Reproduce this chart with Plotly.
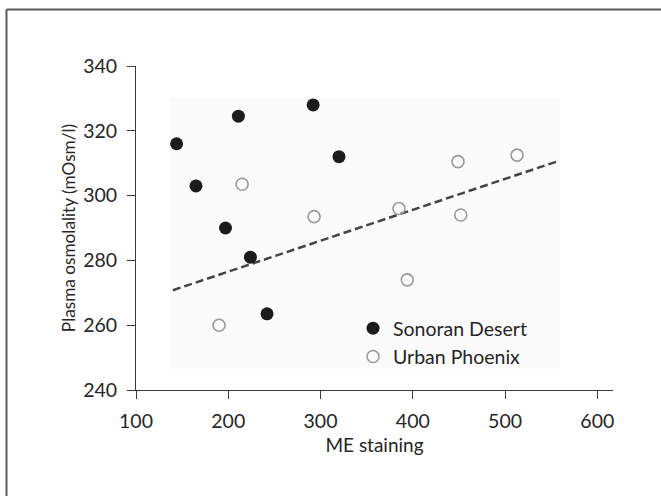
import plotly.graph_objects as go

# Data
sonoran_x = [144, 165, 211, 197, 224, 242, 292, 320]
sonoran_y = [316, 303, 324.5, 290, 281, 263.5, 328, 312]
urban_x = [190, 215, 293, 385, 394, 449, 452, 513]
urban_y = [260, 303.5, 293.5, 296, 274, 310.5, 294, 312.5]
trend_x = [140, 557]
trend_y = [270.8, 310.6]
x_ticks = [100, 200, 300, 400, 500, 600]
y_ticks = [240, 260, 280, 300, 320, 340]

FONT = "Lato"
TXT = "#262626"

fig = go.Figure()
fig.add_trace(go.Scatter(
    x=trend_x, y=trend_y, mode="lines", showlegend=False,
    line=dict(color="#444444", width=2.5, dash="8px,4px"), hoverinfo="skip"))
fig.add_trace(go.Scatter(
    x=sonoran_x, y=sonoran_y, mode="markers", name="Sonoran Desert",
    marker=dict(size=13, color="#1c1c1c", line=dict(width=0))))
fig.add_trace(go.Scatter(
    x=urban_x, y=urban_y, mode="markers", name="Urban Phoenix",
    marker=dict(size=12, color="rgba(255,255,255,0)", symbol="circle",
                line=dict(width=1.6, color="#9a9a9a"))))

# faint scanned panel background
fig.add_shape(type="rect", xref="x", yref="y", x0=136, x1=560, y0=246.5, y1=330.3,
              fillcolor="#fbfbfb", line=dict(width=0), layer="below")
# outer frame (left and top edges visible)
fig.add_shape(type="line", xref="paper", yref="paper", x0=-0.2715, x1=1.2, y0=1.1745, y1=1.1745,
              line=dict(color="#5a5a5a", width=2))
fig.add_shape(type="line", xref="paper", yref="paper", x0=-0.2715, x1=-0.2715, y0=1.1745, y1=-0.4,
              line=dict(color="#5a5a5a", width=2))

axis_common = dict(
    showgrid=False, zeroline=False, showline=True, linecolor="#3a3a3a", linewidth=1,
    ticks="outside", ticklen=8, tickcolor="#3a3a3a", tickwidth=1,
    tickfont=dict(family=FONT, size=19.5, color=TXT),
)
fig.update_xaxes(range=[100, 617], tickvals=x_ticks, ticklabelstandoff=6,
                 title=dict(text="ME staining", font=dict(family=FONT, size=19, color=TXT), standoff=7),
                 **axis_common)
fig.update_yaxes(range=[240, 340], tickvals=y_ticks, ticklabelstandoff=6,
                 title=dict(text="Plasma osmolality (mOsm/l)", font=dict(family=FONT, size=17.2, color=TXT), standoff=3),
                 **axis_common)

fig.update_layout(
    width=661, height=496,
    margin=dict(l=136, r=48, t=66, b=106),
    paper_bgcolor="white", plot_bgcolor="white",
    font=dict(family=FONT, color=TXT),
    legend=dict(x=0.455, y=0.25, xanchor="left", yanchor="top",
                bgcolor="rgba(0,0,0,0)", font=dict(family=FONT, size=19.5, color=TXT),
                itemwidth=30, tracegroupgap=0),
)

fig.write_html("out.html")
